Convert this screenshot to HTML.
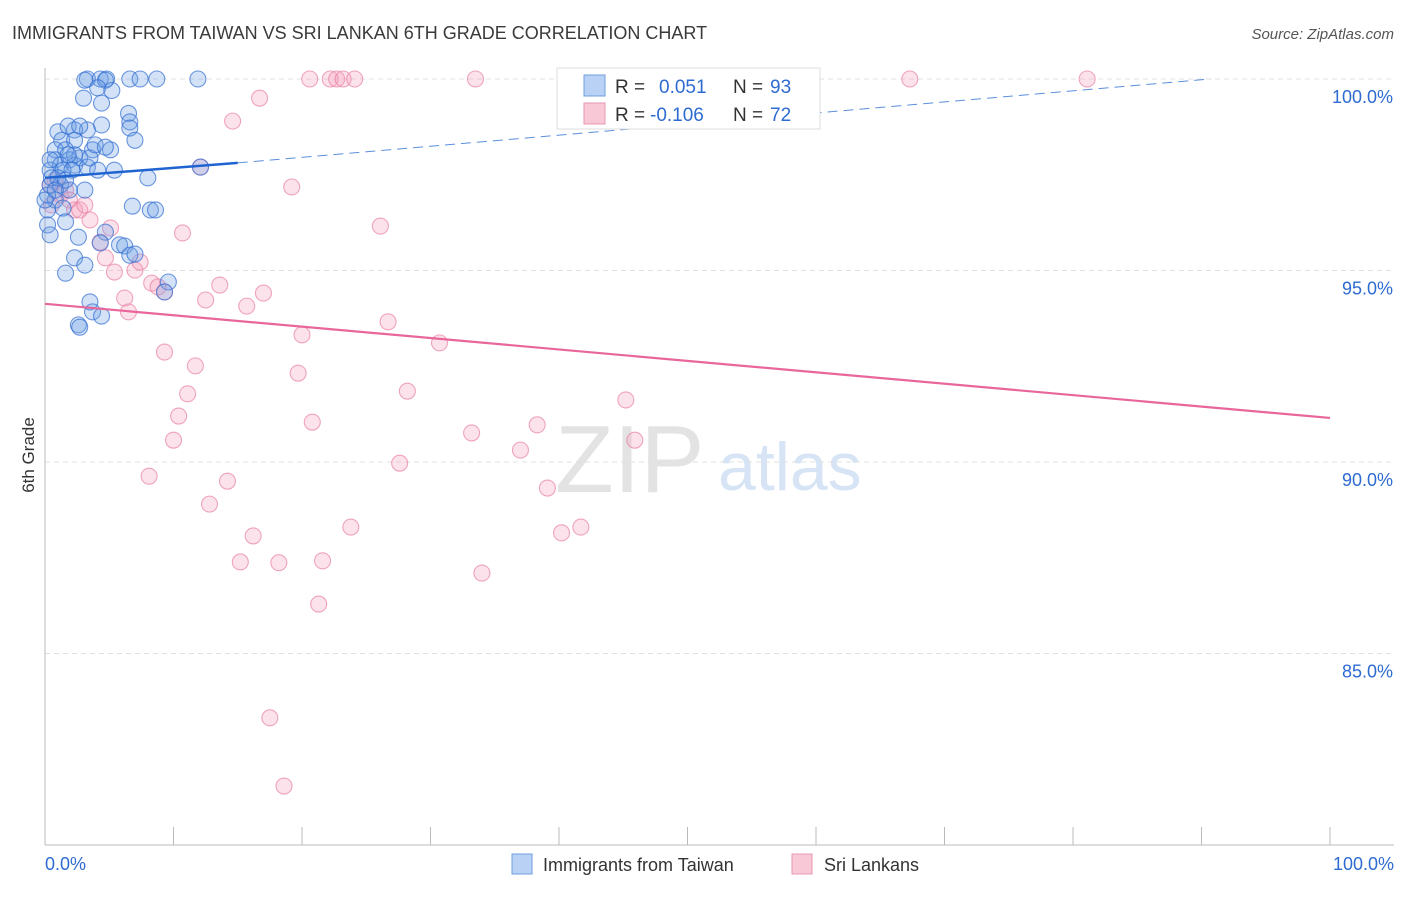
<!DOCTYPE html>
<html><head><meta charset="utf-8"><style>
body{margin:0;background:#fff;font-family:"Liberation Sans",sans-serif;}
svg text{font-family:"Liberation Sans",sans-serif;}
</style></head><body>
<svg id="c" width="1406" height="892">
<text x="12" y="39" font-size="18" fill="#3a3a3a">IMMIGRANTS FROM TAIWAN VS SRI LANKAN 6TH GRADE CORRELATION CHART</text>
<text x="1394" y="39" font-size="15" fill="#555" text-anchor="end" font-style="italic">Source: ZipAtlas.com</text>
<text x="34" y="455" font-size="17" fill="#333" text-anchor="middle" transform="rotate(-90 34 455)">6th Grade</text>
<text x="555" y="492" font-size="96" fill="#e3e3e3" font-family="Liberation Serif">ZIP</text>
<text x="718" y="490" font-size="68" fill="#d6e4f5">atlas</text>
<g id="grid"></g><g id="axes"></g><g id="pts"></g><g id="trend"></g>
<g>
<rect x="557" y="68" width="263" height="61" fill="#fff" stroke="#ddd"/>
<rect x="584" y="75" width="21" height="21" fill="#b8d1f5" stroke="#6f9ee0"/>
<rect x="584" y="103" width="21" height="21" fill="#f8c8d6" stroke="#e897b0"/>
<text y="93" font-size="19" fill="#333"><tspan x="615">R =</tspan><tspan x="659" fill="#2e6bd1">0.051</tspan><tspan x="733">N =</tspan><tspan x="770" fill="#2e6bd1">93</tspan></text>
<text y="121" font-size="19" fill="#333"><tspan x="615">R =</tspan><tspan x="650" fill="#2e6bd1">-0.106</tspan><tspan x="733">N =</tspan><tspan x="770" fill="#2e6bd1">72</tspan></text>
</g>
<g>
<rect x="512" y="854" width="20" height="20" fill="#b8d1f5" stroke="#6f9ee0"/>
<text x="543" y="871" font-size="18" fill="#333">Immigrants from Taiwan</text>
<rect x="792" y="854" width="20" height="20" fill="#f8c8d6" stroke="#e897b0"/>
<text x="824" y="871" font-size="18" fill="#333">Sri Lankans</text>
</g>
</svg>
<script>
const blueX=[3.3,4.3,4.8,6.6,7.4,8.7,11.9,4.7,3.1,4.1,5.2,3.0,4.4,6.5,6.6,6.6,7.0,4.4,3.3,2.3,1.0,1.8,2.7,1.3,2.3,3.7,5.1,0.8,1.6,2.7,1.9,0.8,1.2,2.3,3.3,0.4,1.4,2.1,5.4,8.0,12.1,0.4,1.2,1.9,3.1,0.8,1.4,0.2,6.8,8.2,8.6,1.6,0.2,4.7,2.6,4.3,5.8,6.2,6.6,7.0,2.3,3.1,1.6,9.6,9.3,3.5,3.7,4.4,2.6,2.7,0.4,0.2,0.5,1.0,1.6,3.5,3.9,2.3,1.8,4.1,4.7,0.4,0,0.8];
const blueY=[100,100,100,100,100,100,100,99.97,99.97,99.77,99.7,99.5,99.37,99.1,98.88,98.72,98.4,98.8,98.67,98.67,98.62,98.77,98.77,98.4,98.4,98.15,98.15,98.15,98.15,97.94,97.89,97.89,97.75,97.75,97.7,97.62,97.62,97.62,97.62,97.42,97.7,97.23,97.23,97.1,97.1,96.84,96.63,96.58,96.68,96.58,96.58,96.27,96.19,96.0,95.87,95.72,95.67,95.64,95.4,95.43,95.33,95.14,94.93,94.7,94.44,94.18,93.92,93.81,93.58,93.52,95.93,96.97,97.42,97.42,97.36,97.94,98.28,98.02,98.02,97.62,98.22,97.89,96.84,97.1];
const pinkX=[0.4,0.8,1.2,1.6,0.5,1.9,2.3,2.7,3.5,3.1,5.1,4.3,4.7,5.4,6.2,6.5,7.0,7.4,8.3,8.8,9.3,10.7,12.1,12.5,13.6,14.6,15.7,16.7,17.0,19.2,20.0,19.7,20.8,9.3,11.7,11.1,10.4,10.0,8.1,14.2,12.8,16.2,15.2,18.2,21.6,23.8,21.3,17.5,18.6,26.7,26.1,28.2,27.6,30.7,33.2,34.0,37.0,38.3,39.1,40.2,41.7,45.2,45.9,20.6,22.2,22.7,23.2,24.1,33.5,67.3,81.1];
const pinkY=[97.23,97.36,96.97,97.1,96.71,96.84,96.58,96.58,96.32,96.71,96.11,95.74,95.33,94.96,94.28,93.92,95.01,95.22,94.67,94.57,94.44,95.98,97.7,94.23,94.62,98.9,94.07,99.5,94.41,97.18,93.32,92.32,91.04,92.87,92.51,91.78,91.2,90.57,89.63,89.5,88.9,88.07,87.39,87.37,87.42,88.3,86.29,83.32,81.54,93.66,96.16,91.85,89.97,93.11,90.76,87.1,90.31,90.97,89.32,88.15,88.3,91.62,90.57,100,100,100,100,100,100,100,100];
const yTicks=[100,95,90,85];
const yTickLabels=["100.0%","95.0%","90.0%","85.0%"];
const xTickLabels=["0.0%","100.0%"];
const blueTrend=[[0,97.42],[15,97.81],[90.7,100]];
const pinkTrend=[[0,94.13],[100,91.15]];
const NS="http://www.w3.org/2000/svg";
const X0=45,X1=1330,YT=79,YB=845;
const sx=v=>X0+(X1-X0)*v/100;
const sy=v=>YT+(100-v)*(YB-YT)/20;
function mk(tag,attrs,parent){const e=document.createElementNS(NS,tag);for(const k in attrs)e.setAttribute(k,attrs[k]);parent.appendChild(e);return e;}
const grid=document.getElementById('grid'),axes=document.getElementById('axes');
yTicks.forEach((t,i)=>{
 const l=mk('line',{x1:X0,x2:1394,y1:sy(t),y2:sy(t),stroke:'#e0e0e0','stroke-dasharray':'5,4'},grid);
 
 
 const tx=mk('text',{x:1393,y:sy(t)+24,'font-size':18,fill:'#2e6bd1','text-anchor':'end'},axes);
 tx.textContent=yTickLabels[i];
 
 
});
const ya=mk('line',{x1:X0,x2:X0,y1:68,y2:YB,stroke:'#bbb'},axes);


const xa=mk('line',{x1:X0,x2:1394,y1:YB,y2:YB,stroke:'#bbb'},axes);


for(let i=0;i<=10;i++){const t=mk('line',{x1:sx(i*10),x2:sx(i*10),y1:YB,y2:YB-18,stroke:'#bbb'},axes);
 
 }
[[0,'start',X0],[1,'end',1394]].forEach(([i,a,x])=>{const t=mk('text',{x:x,y:870,'font-size':18,fill:'#2e6bd1','text-anchor':a},axes);t.textContent=xTickLabels[i];
 
 });
const pts=document.getElementById('pts');
pinkX.forEach((x,i)=>{const c=mk('circle',{cx:sx(x),cy:sy(pinkY[i]),r:8,fill:'rgba(244,160,188,0.3)',stroke:'rgba(232,130,165,0.7)','stroke-width':1.1},pts);
 
 });
blueX.forEach((x,i)=>{const c=mk('circle',{cx:sx(x),cy:sy(blueY[i]),r:8,fill:'rgba(110,160,230,0.3)',stroke:'rgba(50,110,210,0.7)','stroke-width':1.1},pts);
 
 });
const tr=document.getElementById('trend');
const b1=mk('line',{x1:sx(blueTrend[0][0]),y1:sy(blueTrend[0][1]),x2:sx(blueTrend[1][0]),y2:sy(blueTrend[1][1]),stroke:'#1f64d0','stroke-width':2.5},tr);


const b2=mk('line',{x1:sx(blueTrend[1][0]),y1:sy(blueTrend[1][1]),x2:sx(blueTrend[2][0]),y2:sy(blueTrend[2][1]),stroke:'#5b8fdc','stroke-width':1,'stroke-dasharray':'10,6'},tr);


const p1=mk('line',{x1:sx(pinkTrend[0][0]),y1:sy(pinkTrend[0][1]),x2:sx(pinkTrend[1][0]),y2:sy(pinkTrend[1][1]),stroke:'#e8669a','stroke-width':2.2},tr);


</script>
</body></html>
